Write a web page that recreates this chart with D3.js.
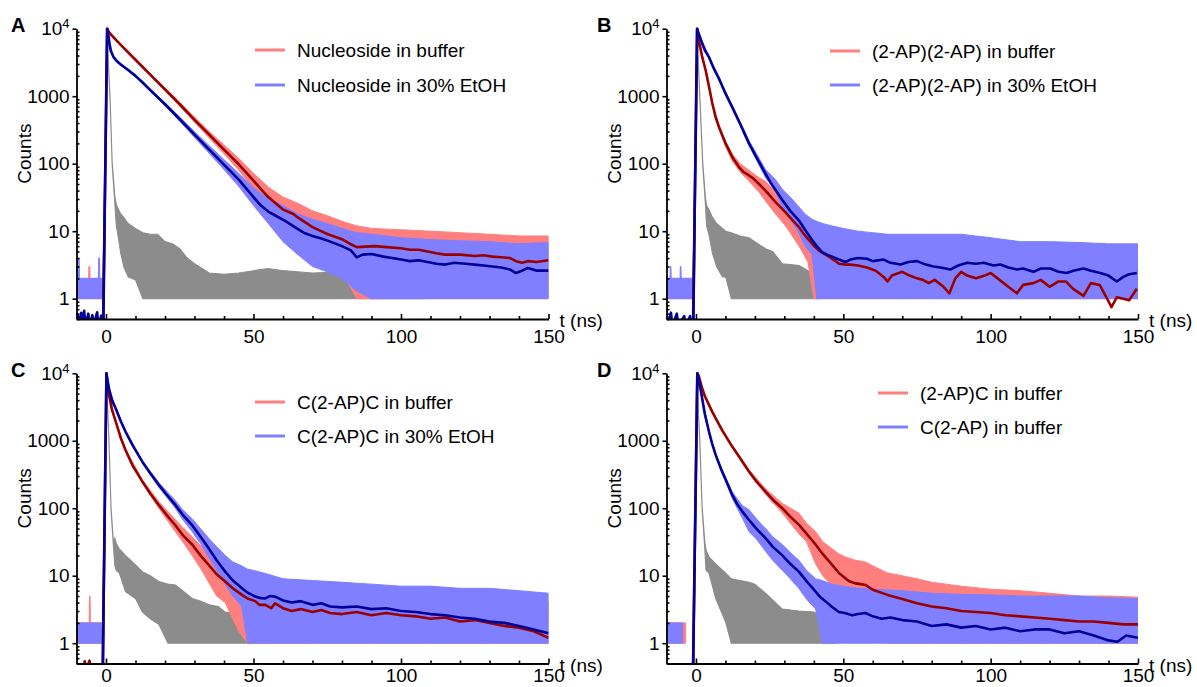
<!DOCTYPE html>
<html><head><meta charset="utf-8">
<script src="https://cdn.jsdelivr.net/npm/d3@7"></script>
<style>
html,body{margin:0;padding:0;background:#fff;}
svg{display:block;font-family:"Liberation Sans", Arial, Helvetica, sans-serif;}
</style></head><body>
<svg id="chart" width="1197" height="687"></svg>
<script>
// ---------------- DATA ----------------
const panelIds = ["A", "B", "C", "D"];
const xTickMajor = [0, 50, 100, 150];
const xTickLabels = ["0", "50", "100", "150"];
const xTickMinor = [10, 20, 30, 40, 60, 70, 80, 90, 110, 120, 130, 140];
const yTickMajor = [1, 10, 100, 1000, 10000];
const yTickLabels = ["1", "10", "100", "1000", "10^4"];
const yTickMinor = [0.5, 0.6, 0.7, 0.8, 0.9, 2, 3, 4, 5, 6, 7, 8, 9, 20, 30, 40, 50, 60, 70, 80, 90,
  200, 300, 400, 500, 600, 700, 800, 900, 2000, 3000, 4000, 5000, 6000, 7000, 8000, 9000];
const xAxisTitle = "t (ns)";
const yAxisTitle = "Counts";

const A_labels = ["Nucleoside in buffer", "Nucleoside in 30% EtOH"];
const B_labels = ["(2-AP)(2-AP) in buffer", "(2-AP)(2-AP) in 30% EtOH"];
const C_labels = ["C(2-AP)C in buffer", "C(2-AP)C in 30% EtOH"];
const D_labels = ["(2-AP)C in buffer", "C(2-AP) in buffer"];

// raw decays: [t (ns), low count, high count] envelopes of the noisy traces
const A_irf = [[-0.6,0.4,0.4],[0.2,9600,10000],[1.35,950,1050],[2.1,95,105],[3.0,25,32],[3.5,12,25],[4,9,22],[5,4.7,18],[6,3,16],[7.5,2.1,13],[10,1.9,11],[12.5,1,9.5],[15,1,9],[17.5,1,9],[20,1,7],[22.5,1,6.5],[25,1,5.5],[27.5,1,4],[30,1,3.3],[35,1,2.4],[40,1,2.3],[45,1,2.4],[50,1,2.6],[55,1,2.8],[60,1,2.6],[70,1,2.4],[80,1,2.5],[90,1,2.4],[100,1,2.3],[108,1,2.2]];
const A_raw1 = [[-10,1,2],[-5.9,1,2],[-5.8,1,3],[-5.5,1,3],[-5.4,1,2],[-1.0,1,2],[0.45,9600,10000],[1,8600,9200],[5,5550,5950],[10,3350,3600],[15,2000,2180],[20,1190,1330],[25,710,810],[30,410,490],[35,240,300],[40,140,190],[45,80,120],[50,43,72],[55,22,45],[60,14,32],[65,10,26],[70,6,20],[75,4,17],[80,2.5,14],[85,1,12],[90,1,11],[100,1,10.5],[110,1,10],[120,1,9.5],[130,1,9],[140,1,8.5],[150,1,8.5]];
const A_raw2 = [[-10,1,2],[-9.5,1,2],[-9.4,1,4],[-9.1,1,4],[-9.0,1,2],[-2.6,1,2],[-2.5,1,4],[-2.2,1,4],[-2.1,1,2],[-1.0,1,2],[0.35,9600,10000],[1.2,5800,6200],[2.5,3750,3950],[5,2850,3050],[7.5,2380,2520],[10,1930,2070],[12.5,1520,1640],[15,1180,1290],[20,720,800],[25,425,490],[30,245,300],[35,142,185],[40,82,115],[45,46,72],[50,24,44],[55,13,30],[60,7,24],[65,4.5,18],[70,3,15],[75,2.5,13],[80,2,11],[85,1.3,9.5],[90,1,9],[100,1,8],[110,1,7.5],[120,1,7.2],[130,1,7],[140,1,6.5],[150,1,6.8]];
// smoothed decays: [t (ns), count]
const A_smooth1 = [[-1.0,0.4],[0.45,10000],[1,8900],[2,7900],[5,5750],[10,3470],[15,2090],[20,1260],[25,760],[30,447],[35,270],[40,162],[45,98],[50,56],[52.5,42],[55,32],[60,21],[63.5,18],[65,16],[70,11.5],[75,9.1],[80,7.6],[83,6.4],[85,5.8],[88,5.9],[91,6.0],[95,5.8],[100,5.6],[103,5.3],[106,5.3],[109,5.0],[112,4.7],[115,4.5],[120,4.5],[125,4.3],[128,4.4],[131,4.2],[134,4.1],[137,4.0],[139,3.6],[141,3.4],[143,3.6],[146,3.5],[150,3.7]];
const A_smooth2 = [[-9.9,0.4],[-9.6,0.58],[-9.2,0.4],[-8.4,0.62],[-8.0,0.4],[-7.4,0.66],[-7.0,0.4],[-6.0,0.6],[-5.6,0.4],[-4.6,0.57],[-4.2,0.4],[-3.0,0.63],[-2.6,0.4],[-1.6,0.56],[-1.2,0.4],[-0.9,0.45],[0.35,10000],[0.8,8000],[1.2,6000],[1.6,4700],[2.5,3850],[3.5,3350],[5,2950],[7.5,2450],[10,2000],[12.5,1580],[15,1230],[20,760],[25,455],[30,270],[35,162],[40,97],[45,58],[50,32],[52.5,24],[55,19.5],[58,16.5],[61,14],[64,11.5],[67,9.5],[70,8.5],[73,7.8],[76,7.0],[80,6.0],[83,5.2],[85,4.1],[87,4.5],[90,4.6],[94,4.2],[97,4.0],[100,3.8],[103,3.6],[106,3.7],[109,3.5],[112,3.3],[115,3.2],[118,3.4],[122,3.3],[125,3.2],[128,3.1],[131,3.0],[134,2.9],[137,2.7],[139,2.4],[141,2.6],[143,2.85],[146,2.6],[150,2.6]];

const B_irf = [[-0.6,0.4,0.4],[0.3,9600,10000],[1.3,950,1050],[2.3,95,105],[3.2,25,32],[3.6,12,24],[4.4,9,21],[5.6,4.7,16],[7,3,13],[9,2.1,11],[10.1,2.1,10],[12,1,9.5],[15,1,8.5],[18,1,8],[20,1,7],[23.6,1,5.5],[26,1,5],[29.3,1,3.3],[32,1,3.2],[35,1,3.1],[38,1,2.6],[42,1,2.2]];
const B_raw1 = [[-10,1,2],[-1.0,1,2],[0.45,9600,10000],[1,6300,6900],[3.3,2300,2500],[5.5,760,840],[7.8,330,370],[10,180,215],[12.3,110,140],[15,75,100],[18,55,80],[21.4,38,62],[23.6,28,55],[27,18,38],[30.4,12,27],[35,6,17],[38,3.5,12],[40,1,10],[42,1,9],[45,1,8],[50,1,7],[55,1,6.5],[60,1,6],[70,1,5.5],[80,1,5.3],[90,1,5],[100,1,5],[110,1,4.8],[120,1,4.5],[130,1,4.3],[140,1,4],[150,1,4]];
const B_raw2 = [[-10,1,2],[-8.8,1,2],[-8.7,1,3],[-8.5,1,3],[-8.4,1,2],[-5.4,1,2],[-5.3,1,3],[-5.1,1,3],[-5.0,1,2],[-1.0,1,2],[0.35,9600,10000],[1,8000,8600],[4.4,3650,3950],[7.8,1750,1900],[12.3,650,730],[18,185,220],[23.6,62,82],[27,40,58],[29.3,22,42],[32,15,32],[34.9,9.5,23],[37,6,18],[39.4,4.5,15],[41,1,14],[43,1,13],[46,1,12],[50,1,11],[55,1,10],[60,1,9.5],[65,1,9],[70,1,9],[80,1,9],[90,1,9],[100,1,8],[110,1,7],[120,1,7],[130,1,6.8],[140,1,6.5],[150,1,6.5]];
const B_smooth1 = [[-1.0,0.4],[0.45,10000],[1,6600],[2,4000],[3.3,2400],[4.4,1400],[5.5,800],[6.6,500],[7.8,350],[9,260],[10.1,198],[12.3,126],[14.6,89],[16,76],[18,67],[19.5,60],[21.4,50],[23.6,40],[25,34],[27,27],[30.4,19],[32.5,15],[34.9,11.6],[36.5,9.2],[38.3,7.4],[40,6.1],[41.7,5.2],[43.5,4.6],[45.1,4.2],[47,3.7],[48.5,3.3],[50.5,3.2],[52.4,3.2],[55,3.1],[58,2.9],[61,2.6],[63.7,2.1],[65,1.8],[66.5,2.2],[70,2.5],[72.5,2.2],[75,2.0],[77,1.9],[79,1.7],[81,1.9],[84,1.5],[86,1.2],[88,2.0],[90,2.5],[92,2.2],[95,2.0],[98,2.2],[100,2.4],[103,1.9],[106,1.5],[108.9,1.2],[111,1.6],[114.5,1.7],[117,1.9],[120,1.5],[123,1.8],[125.5,1.8],[128,1.4],[131.5,1.1],[134,1.7],[137,1.6],[139.5,1.0],[141,0.75],[142.8,1.05],[145,1.0],[147,0.95],[149.6,1.4]];
const B_smooth2 = [[-9.8,0.55],[-9.5,0.4],[-8.5,0.62],[-8,0.4],[-6.5,0.6],[-6,0.4],[-4,0.55],[-3.5,0.4],[-2,0.55],[-1.5,0.4],[-0.9,0.45],[0.35,10000],[1,8300],[2,6200],[3,4800],[4.4,3800],[6,2600],[7.8,1820],[10,1100],[12.3,690],[15,390],[18,200],[20.5,125],[23.6,71],[26,47],[29.3,29],[32,20],[34.9,14.5],[37,10.5],[39.4,7.4],[41,6.0],[42.8,4.9],[44.5,4.5],[46.2,4.2],[48.5,3.8],[50.7,3.5],[52.4,3.8],[55,4.0],[58,3.9],[60,3.6],[63.7,3.8],[66,3.4],[69.5,3.2],[72,3.5],[75,3.6],[78,3.2],[80.6,3.0],[83,2.9],[86.3,2.7],[89,3.1],[92,3.4],[95,3.3],[97.6,3.4],[101,3.1],[103.3,3.2],[106,2.9],[108.9,2.7],[111,2.8],[114.5,2.5],[117,2.8],[120.2,2.8],[123,2.5],[125.8,2.4],[128,2.6],[131.5,2.8],[134,2.6],[137.2,2.4],[140,2.2],[142.8,1.8],[145,2.1],[147,2.3],[149.6,2.4]];

const C_irf = [[-0.8,0.4,0.4],[0.1,9600,10000],[1.0,950,1050],[1.7,95,105],[2.5,28,32],[3,14,36],[3.5,12,30],[4.5,11,25],[6.6,5.8,20],[10,4.6,14.5],[12.3,2.9,11.5],[15,2.3,10],[17.9,1.9,8.2],[21,1,7.5],[23.5,1,7.3],[26,1,6],[29.2,1,4.6],[32,1,4.2],[35,1,3.7],[38,1,3.5],[40.4,1,2.9],[43,1,2.8],[46,1,2.2],[50,1,2]];
const C_raw1 = [[-10,1,2],[-5.7,1,2],[-5.6,1,5],[-5.4,1,5],[-5.3,1,2],[-1.1,1,2],[0.15,9600,10000],[1,4600,5000],[3.3,1850,2000],[6.6,700,760],[12.3,235,265],[17.9,100,125],[23.5,45,68],[26,32,52],[29.2,20,38],[32,13,28],[34.8,8,22],[37.5,5,16],[40.4,4,12],[45,1.5,10],[48,1,9],[50,1,8.5],[55,1,8],[60,1,8],[65,1,7.5],[70,1,7],[80,1,6.5],[90,1,6],[100,1,6],[110,1,5.5],[120,1,5],[130,1,5],[140,1,4.5],[150,1,4.2]];
const C_raw2 = [[-10,1,2],[-1.1,1,2],[0.15,9600,10000],[1,5800,6200],[3.3,2900,3100],[6.6,1320,1420],[12.3,470,510],[17.9,205,240],[23.5,100,130],[26,68,95],[29.2,45,70],[32,30,50],[34.8,19,36],[37.5,12,27],[40.4,7.5,20],[43,5,16],[46,3.5,14],[48,1,12.5],[50,1,12],[55,1,10.5],[60,1,9],[70,1,8.5],[80,1,8],[90,1,7.5],[100,1,7],[110,1,7],[120,1,6.5],[130,1,6.5],[140,1,6],[150,1,5.5]];
const C_smooth1 = [[-7.6,0.4],[-7.2,0.54],[-6.8,0.4],[-5.6,0.55],[-5.2,0.4],[-1.1,0.4],[0.15,10000],[0.5,7500],[1,4800],[2,2900],[3.3,1920],[5,1100],[6.6,730],[9,430],[12.3,250],[15,165],[17.9,112],[20.5,80],[23.5,56],[26,40],[29.2,29],[32,20],[34.8,14.5],[37.5,10.5],[40.4,8.2],[43,6.5],[46.1,5.2],[48,4.6],[50.6,4.2],[52,3.7],[54,3.7],[56,3.3],[57.3,3.9],[60,3.3],[63,3.0],[66,3.2],[70,2.9],[73,3.1],[76,2.8],[80,2.7],[85,2.9],[90,2.6],[95,2.8],[100,2.6],[105,2.5],[110,2.3],[115,2.4],[120,2.1],[125,2.2],[130,2.0],[135,1.8],[140,1.7],[145,1.5],[150,1.2]];
const C_smooth2 = [[-1.1,0.4],[0.15,10000],[0.5,8000],[1,6000],[2,4000],[3.3,3000],[5,1950],[6.6,1370],[9,860],[12.3,490],[15,330],[17.9,222],[20.5,160],[23.5,112],[26,80],[29.2,56],[32,38],[34.8,25.6],[37.5,17],[40.4,11.5],[43,8.5],[46.1,6.5],[48,5.6],[50.6,4.9],[52,4.7],[54,4.6],[55.5,5.0],[57.3,4.9],[60,4.3],[63,4.0],[66,4.2],[70,3.7],[73,3.9],[76,3.5],[80,3.4],[85,3.5],[90,3.2],[95,3.3],[100,3.0],[105,2.9],[110,2.7],[115,2.6],[120,2.4],[125,2.3],[130,2.1],[135,2.0],[140,1.8],[145,1.6],[150,1.4]];

const D_irf = [[-0.6,0.4,0.4],[0.2,9600,10000],[1.3,950,1050],[2.1,95,105],[3,25,32],[3.4,12,24],[4.4,11,19],[6.7,4.6,15],[10,2.1,11],[12,1,9],[15,1,8.5],[18,1,8],[20,1,7.5],[23.6,1,5.5],[27,1,4],[29.3,1,3.2],[32,1,3.1],[35,1,3],[40,1,2.9],[45,1,2.2],[48,1,2]];
const D_raw1 = [[-10,1,2],[-3.5,1,2],[-3.4,null,null],[-1.0,null,null],[0.5,9600,10000],[2.1,5800,6200],[4.4,3300,3500],[6.7,2080,2220],[12.3,790,850],[18,330,370],[23.6,160,195],[29.3,85,118],[34.9,42,85],[37.5,32,60],[40.6,15,45],[43,10,32],[46.2,7,25],[48.5,5.5,21],[50.7,5,19],[54,4.6,17],[57.5,3.5,16],[60,2,14],[65,1,11],[70,1,10],[75,1,9],[80,1,8],[90,1,7],[100,1,6.3],[110,1,6],[120,1,5.5],[130,1,5],[140,1,5],[150,1,4.8]];
const D_raw2 = [[-10,1,2],[-4.5,1,2],[-4.4,null,null],[-1.0,null,null],[0.45,9600,10000],[2.1,4100,4450],[4.4,1320,1420],[6.7,590,640],[10.1,245,285],[12.3,140,175],[15.7,72,110],[18,45,95],[20.5,35,70],[23.6,23,50],[26,17,38],[29.3,12,29],[32,9,22],[34.9,6.5,17],[37.5,4.5,12],[40.6,3.2,9],[42.8,1,8.5],[46,1,7.5],[50,1,7],[55,1,6.5],[60,1,6.3],[70,1,6],[80,1,5.5],[90,1,5.3],[100,1,5.2],[110,1,5],[120,1,5],[130,1,5],[140,1,4.7],[150,1,4.6]];
const D_smooth1 = [[-1,0.4],[0.5,10000],[1,9000],[2.1,6000],[3,4600],[4.4,3400],[5.5,2700],[6.7,2150],[9,1400],[12.3,820],[15,550],[18,350],[20.5,250],[23.6,177],[26,135],[29.3,100],[32,75],[34.9,57],[37.5,42],[40.6,29],[43,21],[46.2,14.5],[48.5,11],[50.7,9.2],[52,8.3],[54.1,7.7],[56,7.5],[57.5,7.3],[60,6.2],[65,5.2],[70,4.5],[75,3.9],[80,3.5],[85,3.3],[90,3.0],[95,2.9],[100,2.8],[105,2.6],[110,2.5],[115,2.4],[120,2.3],[125,2.2],[130,2.1],[135,2.1],[140,2.0],[145,1.9],[150,1.9]];
const D_smooth2 = [[-1,0.4],[0.45,10000],[1,8000],[2.1,4270],[3,2500],[4.4,1370],[5.5,900],[6.7,615],[8.5,380],[10.1,264],[12.3,158],[14,115],[15.7,90],[18,67],[20.5,50],[23.6,36],[26,27],[29.3,20],[32,15],[34.9,11.5],[37.5,8.3],[40.6,5.8],[42,4.9],[43.9,4.2],[46,3.5],[48.5,2.9],[50.5,2.8],[53,2.6],[55,2.7],[57.5,2.8],[60,2.5],[63,2.3],[66,2.4],[70,2.2],[75,2.1],[80,1.8],[85,1.9],[90,1.7],[95,1.8],[100,1.6],[105,1.7],[110,1.5],[115,1.6],[120,1.6],[125,1.4],[130,1.5],[135,1.3],[140,1.1],[143,1.05],[146,1.3],[150,1.2]];

// ---------------- LAYOUT / STYLE ----------------
const xDomain = [-10, 150];
const yDomain = [0.5, 10000];
const colors = {raw1: "#ff7f7f", raw2: "#7f7fff", irf: "#8c8c8c", smooth1: "#990000", smooth2: "#00009a"};
const FONT = 19;
const layout = {
  A: {left: 76.5, right: 548.5, top: 28.7, bottom: 319, letterX: 11, legX: 255, legY: [50, 85], xPad: 11, data: [A_irf, A_raw1, A_raw2, A_smooth1, A_smooth2], labels: A_labels},
  B: {left: 666.5, right: 1138, top: 28.7, bottom: 319, letterX: 597, legX: 830, legY: [51, 85], xPad: 11, data: [B_irf, B_raw1, B_raw2, B_smooth1, B_smooth2], labels: B_labels},
  C: {left: 76.5, right: 548.5, top: 373.3, bottom: 663.5, letterX: 11, legX: 255, legY: [402, 436], xPad: 5, data: [C_irf, C_raw1, C_raw2, C_smooth1, C_smooth2], labels: C_labels},
  D: {left: 666.5, right: 1138, top: 373.3, bottom: 663.5, letterX: 597, legX: 878, legY: [393, 427], xPad: 5, data: [D_irf, D_raw1, D_raw2, D_smooth1, D_smooth2], labels: D_labels}
};

const svg = d3.select("#chart");
const defs = svg.append("defs");

panelIds.forEach(id => {
  const p = layout[id];
  const [irf, raw1, raw2, sm1, sm2] = p.data;
  const x = d3.scaleLinear().domain(xDomain).range([p.left, p.right]);
  const y = d3.scaleLog().domain(yDomain).range([p.bottom, p.top]);
  const g = svg.append("g");

  defs.append("clipPath").attr("id", "clip" + id).append("rect")
    .attr("x", p.left).attr("y", p.top - 3)
    .attr("width", p.right - p.left).attr("height", p.bottom - p.top + 3);

  const plot = g.append("g").attr("clip-path", `url(#clip${id})`);
  const area = d3.area().defined(d => d[1] != null)
    .x(d => x(d[0])).y0(d => y(Math.max(d[1], 0.3))).y1(d => y(Math.max(d[2], 0.3)));
  const line = d3.line().x(d => x(d[0])).y(d => y(Math.max(d[1], 0.3)));

  plot.append("path").datum(irf).attr("d", area)
    .attr("fill", colors.irf).attr("stroke", colors.irf).attr("stroke-width", 1.1);
  plot.append("path").datum(raw1).attr("d", area)
    .attr("fill", colors.raw1).attr("stroke", colors.raw1).attr("stroke-width", 1);
  plot.append("path").datum(raw2).attr("d", area)
    .attr("fill", colors.raw2).attr("stroke", colors.raw2).attr("stroke-width", 1);
  plot.append("path").datum(sm1).attr("d", line)
    .attr("fill", "none").attr("stroke", colors.smooth1).attr("stroke-width", 2.6).attr("stroke-linejoin", "round");
  plot.append("path").datum(sm2).attr("d", line)
    .attr("fill", "none").attr("stroke", colors.smooth2).attr("stroke-width", 2.6).attr("stroke-linejoin", "round");

  // x axis
  const xAxis = g.append("g").attr("transform", `translate(0,${p.bottom})`)
    .call(d3.axisBottom(x).tickValues(xTickMajor).tickFormat((d, i) => xTickLabels[i])
      .tickSizeInner(-5).tickSizeOuter(0).tickPadding(p.xPad));
  const xMinor = g.append("g").attr("transform", `translate(0,${p.bottom})`)
    .call(d3.axisBottom(x).tickValues(xTickMinor).tickFormat("").tickSizeInner(-3).tickSizeOuter(0));
  xMinor.select(".domain").remove();

  // y axis
  const yAxis = g.append("g").attr("transform", `translate(${p.left},0)`)
    .call(d3.axisLeft(y).tickValues(yTickMajor).tickFormat((d, i) => yTickLabels[i])
      .tickSizeInner(4).tickSizeOuter(0).tickPadding(3));
  const yMinor = g.append("g").attr("transform", `translate(${p.left},0)`)
    .call(d3.axisLeft(y).tickValues(yTickMinor).tickFormat("").tickSizeInner(-3).tickSizeOuter(0));
  yMinor.select(".domain").remove();

  [xAxis, xMinor, yAxis, yMinor].forEach(a => {
    a.selectAll("path,line").attr("stroke", "#000").attr("stroke-width", 1.6);
    a.selectAll("text").attr("font-size", FONT).attr("fill", "#000")
      .attr("font-family", '"Liberation Sans", Arial, sans-serif');
  });
  xAxis.select(".domain").attr("stroke-width", 2.2);
  yAxis.select(".domain").attr("stroke-width", 1.8);

  // superscript for 10^4
  yAxis.selectAll(".tick text").each(function (d) {
    const t = d3.select(this);
    const s = t.text();
    if (s.indexOf("^") >= 0) {
      const [base, ex] = s.split("^");
      t.text(null);
      t.append("tspan").text(base);
      t.append("tspan").text(ex).attr("font-size", 13).attr("dy", "-0.55em");
    }
  });

  // axis titles
  g.append("text").attr("x", p.right + 11).attr("y", p.bottom + 8)
    .attr("font-size", FONT).text(xAxisTitle);
  g.append("text").attr("transform", `translate(${p.left - 52},${p.top + 125}) rotate(-90)`)
    .attr("text-anchor", "middle").attr("dy", "0.35em").attr("font-size", FONT).text(yAxisTitle);

  // panel letter
  g.append("text").attr("x", p.letterX).attr("y", p.top + 3.5)
    .attr("font-size", 20).attr("font-weight", "bold").text(id);

  // legend
  [colors.raw1, colors.raw2].forEach((c, i) => {
    g.append("line").attr("x1", p.legX).attr("x2", p.legX + 30)
      .attr("y1", p.legY[i]).attr("y2", p.legY[i])
      .attr("stroke", c).attr("stroke-width", 3);
    g.append("text").attr("x", p.legX + 42).attr("y", p.legY[i]).attr("dy", "0.35em")
      .attr("font-size", FONT).text(p.labels[i]);
  });
});
</script>
</body></html>
